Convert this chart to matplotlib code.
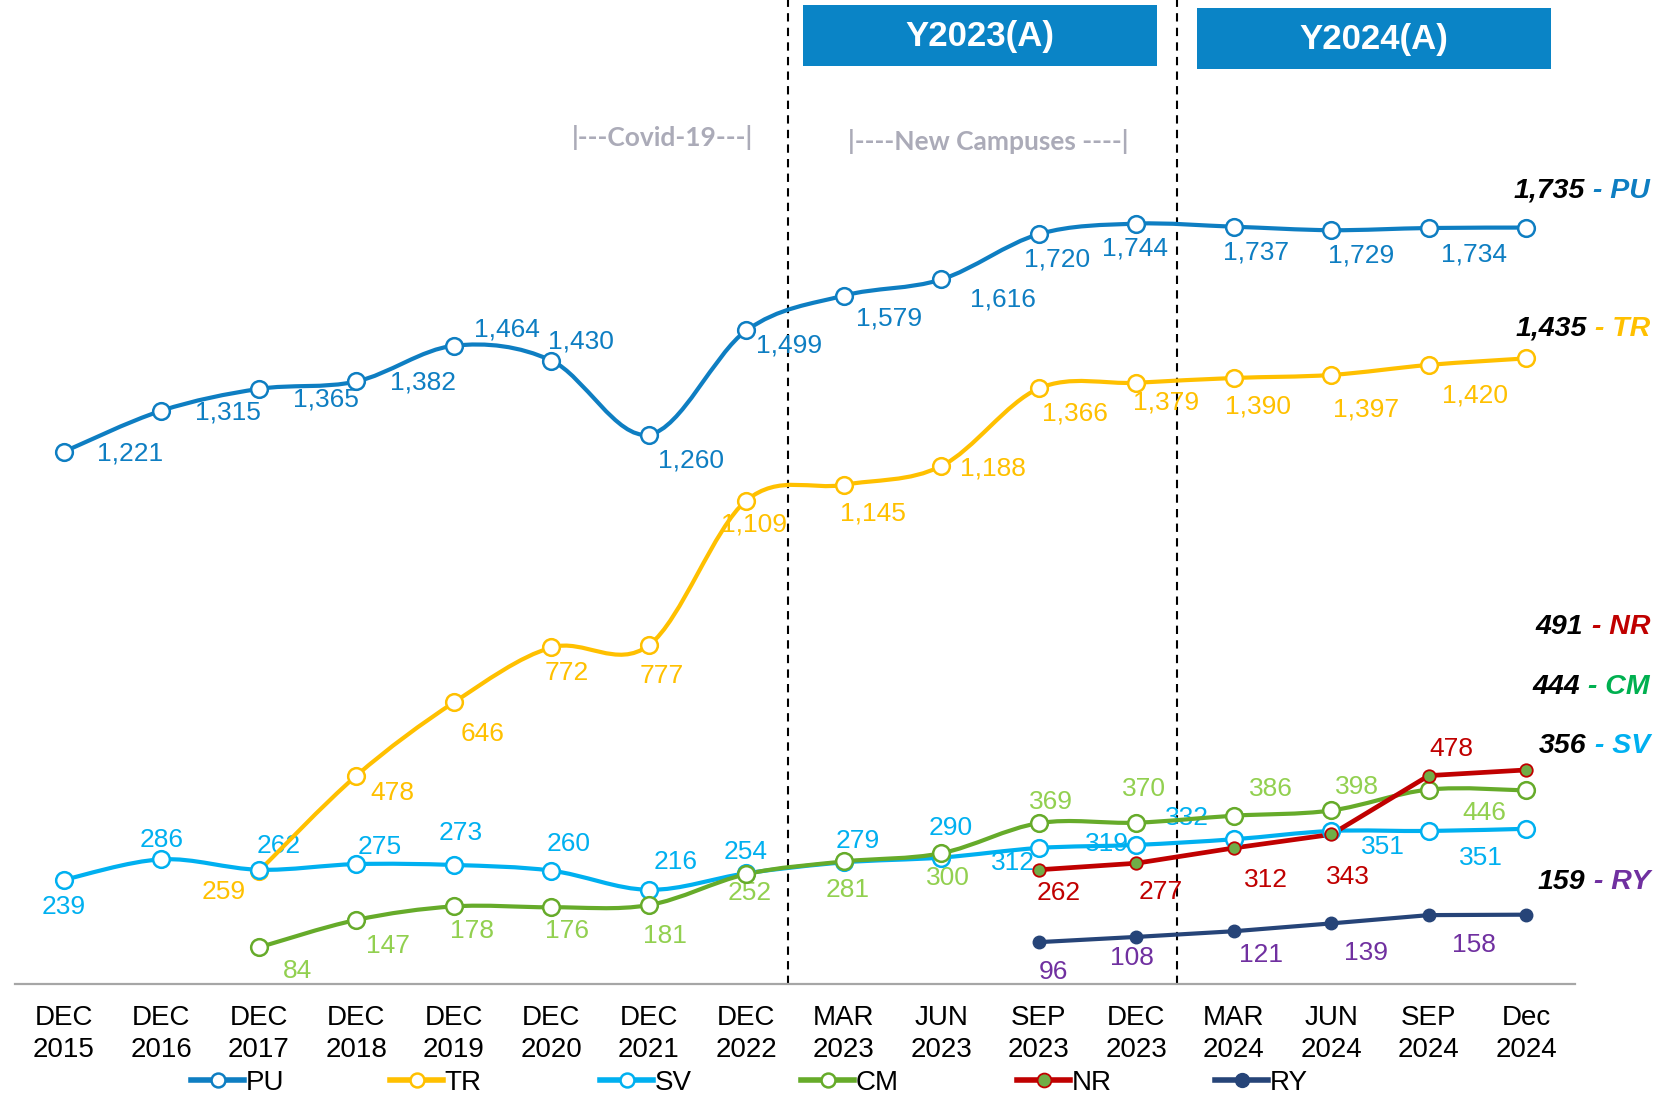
import numpy as np
import matplotlib
matplotlib.use("Agg")
import matplotlib.pyplot as plt
from matplotlib.path import Path
from matplotlib.patches import PathPatch, Rectangle
from matplotlib.lines import Line2D

plt.rcParams['font.family'] = ['Liberation Sans', 'DejaVu Sans']

# ---------------- data ----------------
categories = ["DEC\n2015", "DEC\n2016", "DEC\n2017", "DEC\n2018", "DEC\n2019", "DEC\n2020",
              "DEC\n2021", "DEC\n2022", "MAR\n2023", "JUN\n2023", "SEP\n2023", "DEC\n2023",
              "MAR\n2024", "JUN\n2024", "SEP\n2024", "Dec\n2024"]

pu = [1221, 1315, 1365, 1382, 1464, 1430, 1260, 1499, 1579, 1616, 1720, 1744, 1737, 1729, 1734, 1735]
tr = [259, 478, 646, 772, 777, 1109, 1145, 1188, 1366, 1379, 1390, 1397, 1420, 1435]   # from DEC 2017
sv = [239, 286, 262, 275, 273, 260, 216, 254, 279, 290, 312, 319, 332, 351, 351, 356]
cm = [84, 147, 178, 176, 181, 252, 281, 300, 369, 370, 386, 398, 446, 444]             # from DEC 2017
nr = [262, 277, 312, 343, 478, 491]                                                    # from SEP 2023
ry = [96, 108, 121, 139, 158, 159]                                                     # from SEP 2023

series_names = ["PU", "TR", "SV", "CM", "NR", "RY"]
start_index = {"PU": 0, "TR": 2, "SV": 0, "CM": 2, "NR": 10, "RY": 10}

header_labels = ["Y2023(A)", "Y2024(A)"]
notes = ["|---Covid-19---|", "|----New Campuses ----|"]

# ---------------- styles ----------------
C_PU = "#0E7EC2"
C_TR = "#FFC000"
C_SV = "#00B0F0"
C_CM = "#66AB2A"
C_CM_LBL = "#92D050"
C_NR = "#C00000"
C_NR_FILL = "#70AD47"
C_RY = "#264478"
C_RY_LBL = "#7030A0"

W, H = 1664, 1097
S = 1664 / 1568.0  # offsets measured on shrunk preview

fig = plt.figure(figsize=(W / 100, H / 100), dpi=100)
ax = fig.add_axes([15.25 / W, 1 - 984 / H, (1575 - 15.25) / W, 984 / H])
ax.set_xlim(-0.5, 15.5)
ax.set_ylim(0, 2257)

for s in ["left", "right", "top"]:
    ax.spines[s].set_visible(False)
ax.spines["bottom"].set_color("#A6A6A6")
ax.spines["bottom"].set_linewidth(1.6)
ax.set_yticks([])
ax.set_xticks(range(len(categories)))
ax.set_xticklabels(categories, fontsize=20, linespacing=1.33)
ax.tick_params(axis="x", length=0, pad=15)


def smooth_path(xs, ys):
    pts = np.column_stack([xs, ys]).astype(float)
    n = len(pts)
    verts = [pts[0]]
    codes = [Path.MOVETO]
    for i in range(n - 1):
        p0 = pts[i - 1] if i > 0 else pts[i]
        p1 = pts[i]
        p2 = pts[i + 1]
        p3 = pts[i + 2] if i + 2 < n else pts[i + 1]
        c1 = p1 + (p2 - p0) / 6.0
        c2 = p2 - (p3 - p1) / 6.0
        verts += [c1, c2, p2]
        codes += [Path.CURVE4] * 3
    return Path(verts, codes)


def draw_series(vals, start, color, smooth, mfc, mec, ms, mew, lw=3.0, z=3):
    xs = np.arange(start, start + len(vals))
    if smooth:
        patch = PathPatch(smooth_path(xs, vals), fill=False, edgecolor=color, lw=lw,
                          capstyle="round", joinstyle="round", zorder=z)
        ax.add_patch(patch)
    else:
        ax.plot(xs, vals, color=color, lw=lw, solid_capstyle="round", zorder=z)
    ax.plot(xs, vals, linestyle="none", marker="o", ms=ms, mfc=mfc, mec=mec, mew=mew, zorder=z + 0.1)
    return xs


def label_series(xs, vals, offs, color):
    for x, v, (dx, dy) in zip(xs, vals, offs):
        ax.annotate(f"{v:,}", (x, v), xytext=(dx * S, -dy * S), textcoords="offset pixels",
                    ha="center", va="center", color=color, fontsize=19, zorder=2)


# label offsets (pixels, y downwards)
off_pu = [(62, 2), (63, 2), (63, 10), (63, 1), (50, -15), (28, -18), (40, 24), (40, 14),
          (43, 22), (58, 19), (17, 24), (-1, 23), (21, 24), (28, 24), (43, 25)]
off_tr = [(-33, 20), (34, 16), (27, 30), (14, 24), (12, 29), (7, 23), (27, 27), (49, 2),
          (34, 24), (28, 19), (23, 27), (33, 33), (44, 29)]
off_sv = [(0, 26), (0, -18), (19, -22), (22, -16), (6, -30), (16, -25), (25, -26), (-1, -20),
          (13, -20), (9, -28), (-24, 14), (-28, -1), (-44, -20), (49, 15), (49, 25)]
off_cm = [(36, 22), (30, 25), (17, 23), (15, 22), (15, 29), (3, 18), (4, 27), (6, 23),
          (11, -20), (7, -32), (35, -25), (24, -22), (52, 22)]
off_nr = [(19, 22), (23, 27), (30, 30), (16, 40), (21, -25)]
off_ry = [(14, 28), (-4, 20), (26, 22), (33, 28), (43, 28)]

x_pu = draw_series(pu, start_index["PU"], C_PU, True, "white", C_PU, 12, 1.8)
x_tr = draw_series(tr, start_index["TR"], C_TR, True, "white", C_TR, 12, 1.8)
x_sv = draw_series(sv, start_index["SV"], C_SV, True, "white", C_SV, 12, 1.8)
x_cm = draw_series(cm, start_index["CM"], C_CM, True, "white", C_CM, 12, 1.8)
x_nr = draw_series(nr, start_index["NR"], C_NR, False, C_NR_FILL, C_NR, 9, 1.3, lw=3.4)
x_ry = draw_series(ry, start_index["RY"], C_RY, False, C_RY, C_RY, 9, 1.0)

label_series(x_pu, pu, off_pu, C_PU)
label_series(x_tr, tr, off_tr, C_TR)
label_series(x_sv, sv, off_sv, C_SV)
label_series(x_cm, cm, off_cm, C_CM_LBL)
label_series(x_nr, nr, off_nr, C_NR)
label_series(x_ry, ry, off_ry, C_RY_LBL)

# vertical period separators
for xv in (7.43, 11.42):
    ax.axvline(xv, ymin=0, ymax=1, color="black", lw=1.5, dashes=(4, 3), zorder=1)


def fx(px):
    return px / W


def fy(py):
    return 1 - py / H


# header boxes
for (x0, y0, x1, y1), txt in zip([(803, 5, 1157, 66), (1197, 8, 1551, 69)], header_labels):
    fig.add_artist(Rectangle((fx(x0), fy(y1)), fx(x1) - fx(x0), fy(y0) - fy(y1),
                             transform=fig.transFigure, facecolor="#0A84C6", edgecolor="none"))
    fig.text(fx((x0 + x1) / 2), fy((y0 + y1) / 2 + 1), txt, ha="center", va="center",
             color="white", fontsize=25, fontweight="bold")

# notes
for (cx, cy), txt in zip([(662, 138), (988, 141)], notes):
    fig.text(fx(cx), fy(cy), txt, ha="center", va="center", color="#ABABB8",
             fontsize=19, fontweight="bold", family=["Lato", "DejaVu Sans"])

# right-side final value labels
final = [("PU", pu[-1], C_PU, 191), ("TR", tr[-1], C_TR, 329), ("NR", nr[-1], C_NR, 627),
         ("CM", cm[-1], "#00B050", 687), ("SV", sv[-1], C_SV, 746), ("RY", ry[-1], C_RY_LBL, 882)]
for name, val, col, py in final:
    suf = fig.text(fx(1650), fy(py), f" - {name}", ha="right", va="center", color=col,
                   fontsize=20.5, fontweight="bold", style="italic")
    ax.annotate(f"{val:,}", xy=(0, 0.5), xycoords=suf, ha="right", va="center",
                color="black", fontsize=20.5, fontweight="bold", style="italic",
                annotation_clip=False)

# legend: one entry per box, placed at the reference positions
handles = [
    Line2D([], [], color=C_PU, lw=4, marker="o", ms=10, mfc="white", mec=C_PU, mew=1.8),
    Line2D([], [], color=C_TR, lw=4, marker="o", ms=10, mfc="white", mec=C_TR, mew=1.8),
    Line2D([], [], color=C_SV, lw=4, marker="o", ms=10, mfc="white", mec=C_SV, mew=1.8),
    Line2D([], [], color=C_CM, lw=4, marker="o", ms=10, mfc="white", mec=C_CM, mew=1.8),
    Line2D([], [], color=C_NR, lw=4, marker="o", ms=10, mfc=C_NR_FILL, mec=C_NR, mew=1.3),
    Line2D([], [], color=C_RY, lw=4, marker="o", ms=10, mfc=C_RY, mec=C_RY, mew=1.0),
]
LFS = 20
em = LFS * 100 / 72
legend_left = [191, 390, 600, 801, 1017, 1215]
for h, name, lx in zip(handles, series_names, legend_left):
    fig.legend([h], [name], loc="center left", bbox_to_anchor=(fx(lx), fy(1083)),
               frameon=False, fontsize=LFS, handlelength=53 / em, handletextpad=0.05,
               borderpad=0, borderaxespad=0)

fig.savefig("out.png", dpi=100)
